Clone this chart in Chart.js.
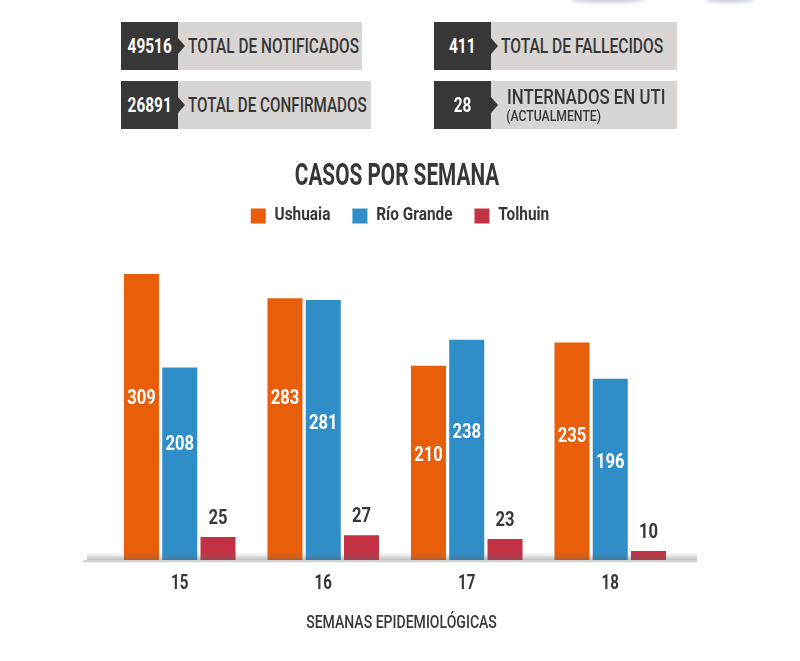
<!DOCTYPE html>
<html>
<head>
<meta charset="utf-8">
<script src="https://cdn.jsdelivr.net/npm/chart.js@4"></script>
<style>
  html, body { margin: 0; padding: 0; background: #fff; }
  #wrap { position: relative; width: 800px; height: 661px; overflow: hidden; font-family: Roboto, sans-serif; color: #373737; }
  canvas { position: absolute; left: 0; top: 0; }
  .kpi { position: absolute; height: 48px; background: #d8d5d3; }
  .kpi .num { position: absolute; left: 0; top: 0; width: 57px; height: 48px; line-height: 48px; background: #373737; color: #fff; text-align: center; font-weight: 700; font-size: 20px; }
  .kpi .num span { display: inline-block; transform: scaleX(0.77); white-space: nowrap; }
  .kpi .num:after { content: ''; position: absolute; left: 57px; top: 16px; border-left: 7px solid #373737; border-top: 8px solid transparent; border-bottom: 8px solid transparent; }
  .kpi .lab { position: absolute; left: 67px; top: 0; line-height: 48px; font-size: 20px; font-weight: 500; white-space: nowrap; transform-origin: left center; }
  .kpi .two { left: 73px; top: 6px; line-height: 20px; transform-origin: left top; }
  .kpi .two small { display: block; font-size: 14px; line-height: 15px; margin-top: 2px; margin-left: -1px; transform: scaleX(1.04); transform-origin: left top; }
  .smudge { position: absolute; top: -3px; height: 5px; background: #b9bfd0; border-radius: 50%; filter: blur(2px); }
</style>
</head>
<body>
<div id="wrap">
  <div class="smudge" style="left:570px;width:75px"></div>
  <div class="smudge" style="left:705px;width:50px"></div>
  <canvas id="chart" width="800" height="661"></canvas>
  <div class="kpi" style="left:121px;top:22px;width:241px"><div class="num"><span>49516</span></div><div class="lab" style="transform:scaleX(0.77)">TOTAL DE NOTIFICADOS</div></div>
  <div class="kpi" style="left:121px;top:81px;width:250px"><div class="num"><span>26891</span></div><div class="lab" style="transform:scaleX(0.76)">TOTAL DE CONFIRMADOS</div></div>
  <div class="kpi" style="left:434px;top:22px;width:243px"><div class="num"><span>411</span></div><div class="lab" style="transform:scaleX(0.78)">TOTAL DE FALLECIDOS</div></div>
  <div class="kpi" style="left:434px;top:81px;width:243px"><div class="num"><span>28</span></div><div class="lab two" style="transform:scaleX(0.84)">INTERNADOS EN UTI<small>(ACTUALMENTE)</small></div></div>
</div>
<script>
const weeks = ['15', '16', '17', '18'];
const ushuaia = [309, 283, 210, 235];
const rioGrande = [208, 281, 238, 196];
const tolhuin = [25, 27, 23, 10];

// how far each white label sits above the middle of its bar
const ushuaiaLift = [18, 30, 7, 15];
const rioGrandeLift = [19, 6, 17, 7];
const lifts = [ushuaiaLift, rioGrandeLift];

const fontName = 'Roboto, sans-serif';
const dark = '#373737';

// no condensed font installed, so squeeze the canvas text horizontally, per font size
const squeezeBySize = { 31: 0.67, 17.5: 0.88, 18: 0.78, 21: 0.72, 20.5: 0.81 };
const canvas = document.getElementById('chart');
const rawCtx = canvas.getContext('2d');
const rawFillText = rawCtx.fillText.bind(rawCtx);
const rawMeasureText = rawCtx.measureText.bind(rawCtx);
const squeeze = () => squeezeBySize[parseFloat(rawCtx.font.match(/([\d.]+)px/)[1])] || 1;
rawCtx.fillText = (text, x, y) => {
  rawCtx.save();
  rawCtx.translate(x, y);
  rawCtx.scale(squeeze(), 1);
  rawFillText(text, 0, 0);
  rawCtx.restore();
};
rawCtx.measureText = (text) => ({ width: rawMeasureText(text).width * squeeze() });

// value labels: white inside the tall bars, dark above the short ones
const barLabels = {
  id: 'barLabels',
  afterDatasetsDraw(chart) {
    const ctx = chart.ctx;
    ctx.save();
    ctx.textAlign = 'center';
    ctx.textBaseline = 'middle';
    ctx.font = '700 20.5px ' + fontName;
    chart.data.datasets.forEach((ds, i) => {
      chart.getDatasetMeta(i).data.forEach((bar, j) => {
        const val = ds.data[j];
        if (val > 100) {
          ctx.fillStyle = '#fff';
          ctx.fillText(String(val), bar.x, (bar.y + bar.base) / 2 - lifts[i][j]);
        } else {
          ctx.fillStyle = dark;
          ctx.fillText(String(val), bar.x, bar.y - 18);
        }
      });
    });
    ctx.restore();
  }
};

// soft grey floor, it also darkens the feet of the bars
const floorShadow = {
  id: 'floorShadow',
  afterDatasetsDraw(chart) {
    const ctx = chart.ctx;
    const y = chart.chartArea.bottom;
    const grad = ctx.createLinearGradient(0, y - 8, 0, y);
    grad.addColorStop(0, 'rgba(120,120,120,0)');
    grad.addColorStop(1, 'rgba(90,90,90,0.4)');
    ctx.save();
    ctx.fillStyle = grad;
    ctx.fillRect(87, y - 8, 610, 8);
    ctx.fillStyle = '#cfcfcf';
    ctx.fillRect(83, y, 614, 2);
    ctx.restore();
  }
};

// title, legend and axis title are not centred on the bars in the original
const nudgeText = {
  id: 'nudgeText',
  afterLayout(chart) {
    chart.legend.left += 5;
    chart.legend.right += 5;
    chart.titleBlock.left += 2;
    chart.titleBlock.right += 2;
    const xScale = chart.scales.x;
    const drawTitle = xScale.drawTitle.bind(xScale);
    xScale.drawTitle = () => {
      chart.ctx.save();
      chart.ctx.translate(6.5, 0);
      drawTitle();
      chart.ctx.restore();
    };
  }
};

new Chart(canvas, {
  type: 'bar',
  data: {
    labels: weeks,
    datasets: [
      { label: 'Ushuaia', data: ushuaia, backgroundColor: '#e95e0b' },
      { label: 'Río Grande', data: rioGrande, backgroundColor: '#2f8dc8' },
      { label: 'Tolhuin', data: tolhuin, backgroundColor: '#c23144' }
    ]
  },
  options: {
    responsive: false,
    animation: false,
    categoryPercentage: 0.8,
    barPercentage: 0.915,
    layout: { padding: { left: 108, right: 118, top: 159, bottom: 27 } },
    plugins: {
      tooltip: { enabled: false },
      title: {
        display: true,
        text: 'CASOS POR SEMANA',
        color: dark,
        font: { family: fontName, size: 31, weight: '700' },
        padding: { top: 0, bottom: -11 }
      },
      legend: {
        position: 'top',
        labels: {
          boxWidth: 15,
          boxHeight: 15,
          padding: 22,
          color: dark,
          font: { family: fontName, size: 17.5, weight: '700' }
        }
      }
    },
    scales: {
      x: {
        grid: { display: false },
        border: { display: false },
        ticks: { color: dark, padding: 3, font: { family: fontName, size: 21, weight: '700' } },
        title: {
          display: true,
          text: 'SEMANAS EPIDEMIOLÓGICAS',
          color: dark,
          padding: { top: 13, bottom: 0 },
          font: { family: fontName, size: 18, weight: '500' }
        }
      },
      y: { display: false, min: 0, max: 351.5 }
    }
  },
  plugins: [nudgeText, floorShadow, barLabels]
});
</script>
</body>
</html>
